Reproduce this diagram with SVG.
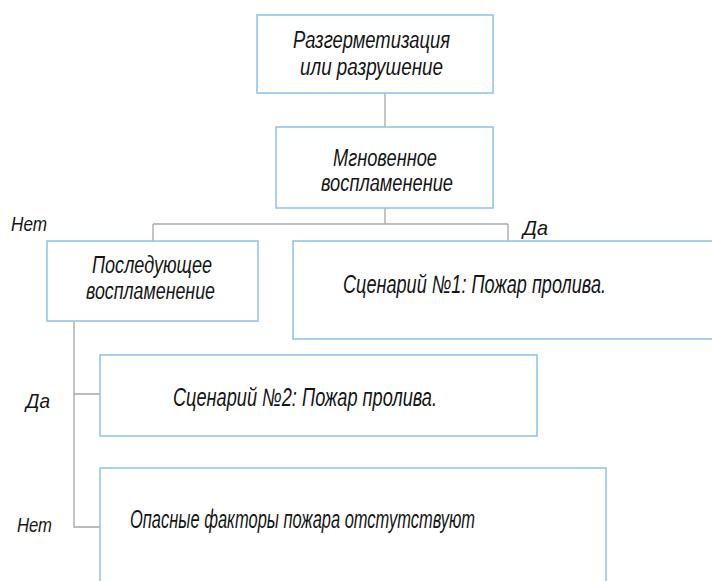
<svg xmlns="http://www.w3.org/2000/svg" width="712" height="581" viewBox="0 0 712 581">
<style>
.box{fill:#fff;stroke:#8cc2ea;stroke-width:1.5}
.conn{fill:none;stroke:#a6a6a6;stroke-width:1.3}
.t{font-family:"Liberation Sans","DejaVu Sans",sans-serif;font-style:italic;font-size:23px;fill:#151515}
.s{font-size:25px}
.lbl{font-family:"Liberation Sans","DejaVu Sans",sans-serif;font-style:italic;font-size:21px;fill:#151515}
</style>
<rect width="712" height="581" fill="#fff"/>
<g id="connectors">
<path class="conn" d="M385 93V127"/>
<path class="conn" d="M385 208V224M153 224H508M153 224V241M508 224V241"/>
<path class="conn" d="M74 321V527H100M74 394H100"/>
</g>
<g id="n1">
<rect class="box" x="257" y="15" width="236" height="78"/>
<text class="t" x="293" y="48" textLength="157" lengthAdjust="spacingAndGlyphs">Разгерметизация</text>
<text class="t" x="300" y="75" textLength="143" lengthAdjust="spacingAndGlyphs">или разрушение</text>
</g>
<g id="n2">
<rect class="box" x="276" y="127" width="217" height="81"/>
<text class="t" x="333" y="166" textLength="104" lengthAdjust="spacingAndGlyphs">Мгновенное</text>
<text class="t" x="321" y="191" textLength="132" lengthAdjust="spacingAndGlyphs">воспламенение</text>
</g>
<g id="n3">
<rect class="box" x="47" y="241" width="211" height="80"/>
<text class="t" x="92" y="273" textLength="120" lengthAdjust="spacingAndGlyphs">Последующее</text>
<text class="t" x="86" y="299" textLength="129" lengthAdjust="spacingAndGlyphs">воспламенение</text>
</g>
<g id="n4">
<rect class="box" x="293" y="241" width="430" height="98"/>
<text class="t s" x="343" y="293" textLength="263" lengthAdjust="spacingAndGlyphs">Сценарий №1: Пожар пролива.</text>
</g>
<g id="n5">
<rect class="box" x="100" y="355" width="437" height="81"/>
<text class="t s" x="173" y="406" textLength="264" lengthAdjust="spacingAndGlyphs">Сценарий №2: Пожар пролива.</text>
</g>
<g id="n6">
<rect class="box" x="100" y="468" width="506" height="130"/>
<text class="t s" x="130" y="528" textLength="345" lengthAdjust="spacingAndGlyphs">Опасные факторы пожара отстутствуют</text>
</g>
<g id="labels">
<text class="lbl" x="11" y="231" textLength="36" lengthAdjust="spacingAndGlyphs">Нет</text>
<text class="lbl" x="523" y="235" textLength="25" lengthAdjust="spacingAndGlyphs">Да</text>
<text class="lbl" x="26" y="408" textLength="24" lengthAdjust="spacingAndGlyphs">Да</text>
<text class="lbl" x="17" y="532" textLength="35" lengthAdjust="spacingAndGlyphs">Нет</text>
</g>
</svg>
